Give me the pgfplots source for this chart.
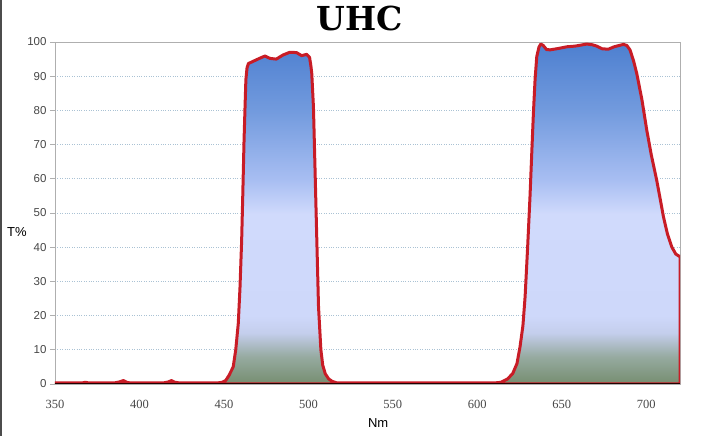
\documentclass[border=0pt]{standalone}
\usepackage{pgfplots}
\pgfplotsset{compat=1.18}
\usepackage{fontspec}
\setmainfont{Liberation Sans}
\newfontfamily\xfont{Liberation Serif}
\newfontfamily\titlefont{DejaVu Serif}

\definecolor{uhcred}{RGB}{200,28,38}
\definecolor{gridc}{RGB}{170,194,212}
\definecolor{framec}{RGB}{175,175,175}
\definecolor{labc}{RGB}{70,70,70}
\definecolor{s0}{RGB}{118,142,112}
\definecolor{s1}{RGB}{150,170,160}
\definecolor{s2}{RGB}{196,206,236}
\definecolor{s3}{RGB}{206,216,250}
\definecolor{s4}{RGB}{208,218,252}
\definecolor{s5}{RGB}{168,190,242}
\definecolor{s6}{RGB}{115,155,222}
\definecolor{s7}{RGB}{78,128,208}

% vertical shading: 25bp = T 0, 75bp = T ~99
\pgfdeclareverticalshading{uhc}{100bp}{color(0bp)=(s0); color(25bp)=(s0);
  color(29bp)=(s1); color(32.5bp)=(s2); color(35bp)=(s3); color(50bp)=(s4);
  color(55bp)=(s5); color(65bp)=(s6); color(75bp)=(s7); color(100bp)=(s7)}

\begin{document}
\begin{tikzpicture}
\path[use as bounding box] (0,0) rectangle (720pt,436pt);
\draw[line width=2pt, black!70] (1pt,0) -- (1pt,436pt);
\node[anchor=base, font=\titlefont\bfseries\fontsize{33}{36}\selectfont] at (360pt,405pt) {UHC};
\begin{axis}[
    at={(55pt,52pt)}, anchor=south west,
    scale only axis, width=625pt, height=342pt,
    xmin=350, xmax=720, ymin=0, ymax=100,
    xtick={350,400,...,700}, ytick={0,10,...,100},
    axis line style={framec, line width=0.8pt},
    xtick style={draw=none},
    ytick pos=left, tick align=outside, major tick length=5pt,
    ytick style={framec, line width=0.6pt},
    ymajorgrids, grid style={gridc, dotted, line width=0.8pt},
    /pgf/number format/assume math mode=true,
    yticklabel style={font=\fontsize{11.5}{13}\selectfont, text=labc},
    xticklabel style={font=\xfont\fontsize{12.5}{14}\selectfont, text=labc, yshift=-8pt},
    xlabel={Nm}, ylabel={T\%},
    xlabel style={font=\fontsize{13}{15}\selectfont, at={(axis description cs:0.517,-0.114)}, anchor=center},
    ylabel style={font=\fontsize{13}{15}\selectfont, rotate=-90, at={(axis description cs:-0.061,0.444)}, anchor=center},
]
\addplot[draw=uhcred, line width=3pt, shading=uhc, line join=round] table {
350 0.3
360 0.3
366 0.3
368 0.5
370 0.3
385 0.3
388 0.6
390.5 1.0
393 0.4
396 0.3
414 0.3
417 0.6
419 1.0
421 0.5
424 0.3
446 0.3
449 0.5
451 1.0
453 2.5
455.5 5
457 10
458.5 17.7
459.5 28
460.5 42
461.2 56
461.9 71
462.5 81
463 89
463.7 92.5
464.5 93.7
467.5 94.4
471 95.2
474.3 95.9
477.3 95.2
481 95.0
485 96.2
489 97.0
493 96.9
496 96.0
499 96.4
500.7 95.5
501.5 93
502 90.8
503 81
504 61.6
505 42
506 22.6
507.4 10
508.5 5.5
510 3
512 1.5
514 0.8
517 0.3
600 0.3
610 0.3
614 0.5
618 1.5
621 3.1
623.5 6
625.3 10.9
627 17
628.3 25.5
629.8 40
631.2 54.8
632.2 67
633.2 79
634.2 89
635.2 95.7
636.5 98.5
637.6 99.4
639 99
641 97.8
643.1 97.7
648 98.1
653 98.6
658 98.8
664.8 99.4
668 99.2
670.7 98.8
674 98
677.6 97.9
681 98.6
686.5 99.3
688.5 99
690.4 97.7
692.5 94.5
694.4 90.8
697.5 83
700.3 74.3
703 67
706.2 59.6
708.5 53.5
710.2 48.9
712.5 44
715.1 40.1
717.5 38
720 37.2
} \closedcycle;
\draw[line width=1.2pt, black!75!red!60!black] (axis cs:350,0) -- (axis cs:720,0);
\end{axis}
\end{tikzpicture}
\end{document}
